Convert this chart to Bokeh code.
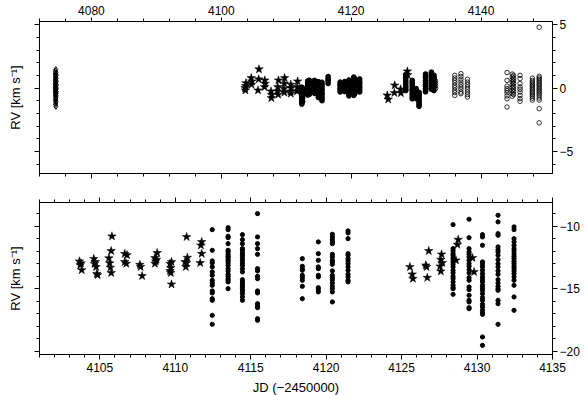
from bokeh.plotting import figure
from bokeh.models import Range1d, LinearAxis, SingleIntervalTicker
from bokeh.layouts import column
from bokeh.embed import file_html
from bokeh.resources import INLINE

FONT = "Liberation Sans"

# ---------------- top panel data ----------------
top_diamond_jd = [4074.50, 4074.46, 4074.54, 4074.42, 4074.58, 4074.50, 4074.44, 4074.56, 4074.50,
                  4074.42, 4074.58, 4074.47, 4074.53, 4074.40, 4074.60, 4074.50, 4074.44, 4074.56,
                  4074.41, 4074.59, 4074.50, 4074.45, 4074.55, 4074.42, 4074.58, 4074.50, 4074.44,
                  4074.56, 4074.47, 4074.53, 4074.50, 4074.45, 4074.55, 4074.50, 4074.48, 4074.52]
top_diamond_rv = [1.45, 1.32, 1.20, 1.10, 1.02, 0.93, 0.85, 0.76, 0.70, 0.62, 0.55, 0.47, 0.40,
                  0.33, 0.26, 0.20, 0.13, 0.06, 0.00, -0.07, -0.13, -0.20, -0.27, -0.33, -0.40,
                  -0.47, -0.55, -0.62, -0.70, -0.78, -0.87, -0.96, -1.06, -1.17, -1.30, -1.45]

top_star_jd = [4103.65, 4103.75, 4103.70, 4103.80,
               4104.60, 4104.70, 4104.65,
               4105.80, 4105.75, 4105.65,
               4106.70, 4106.75, 4106.65,
               4107.65, 4107.75, 4107.70,
               4108.80, 4108.70, 4108.65, 4108.75,
               4109.75, 4109.70, 4109.65, 4109.70,
               4110.70, 4110.75, 4110.65, 4110.70,
               4111.75, 4111.70, 4111.65,
               4125.55, 4125.70, 4126.70, 4126.65, 4127.60, 4127.65, 4128.65, 4128.70]
top_star_rv = [0.00, 0.16, -0.18, 0.39,
               0.79, 0.53, 0.27,
               1.48, 0.69, -0.18,
               0.61, 0.35, 0.08,
               -0.26, -0.52, -0.79,
               0.61, 0.08, -0.26, -0.52,
               0.79, 0.35, -0.05, -0.36,
               0.27, 0.00, -0.26, -0.44,
               0.53, 0.08, -0.26,
               -0.58, -0.90, 0.21, -0.38, -0.10, -0.40, 1.32, 1.03]

top_dot_nights = [4112.40, 4112.52, 4113.30, 4113.55, 4114.35, 4114.95, 4115.50, 4116.45,
                  4118.30, 4119.00, 4119.65, 4120.40, 4120.55, 4121.30,
                  4128.40, 4129.40, 4130.00, 4130.45, 4131.45, 4132.35, 4132.75]
top_dot_rv = [
    [0.06, -0.09, -0.21, -0.37, -0.48, -0.61, -0.73, -0.88, -0.99, -1.14, -1.27],
    [-0.03, -0.31, -0.57, -0.79, -1.06],
    [0.55, 0.37, 0.23, 0.05, -0.11, -0.26, -0.43, -0.55],
    [0.61, 0.44, 0.26, 0.11, -0.06, -0.21, -0.39, -0.50],
    [0.60, 0.44, 0.31, 0.12, -0.03, -0.17, -0.34, -0.42],
    [0.50, 0.32, 0.19, 0.01, -0.16, -0.29, -0.47, -0.61, -0.75],
    [0.45, 0.29, 0.13, -0.06, -0.19, -0.39, -0.52, -0.71, -0.85, -1.00],
    [0.90, 0.71, 0.56, 0.36],
    [0.46, 0.29, 0.16, -0.01, -0.14, -0.31],
    [0.50, 0.34, 0.21, 0.04, -0.12, -0.28],
    [0.63, 0.45, 0.31, 0.13, -0.03, -0.17, -0.35, -0.49, -0.62],
    [0.86, 0.67, 0.53, 0.35, 0.21, 0.03, -0.13, -0.27, -0.45, -0.58],
    [0.71, 0.41, 0.09, -0.21, -0.44],
    [0.71, 0.52, 0.38, 0.19, 0.05, -0.13, -0.31],
    [1.05, 0.87, 0.73, 0.54, 0.39, 0.21, 0.06, -0.11, -0.20],
    [0.60, 0.43, 0.29, 0.11, -0.05, -0.19, -0.37, -0.51, -0.69, -0.85],
    [-0.05, -0.23, -0.39, -0.59, -0.74, -0.84],
    [-0.35, -0.51, -0.65, -0.83, -0.97, -1.15, -1.29, -1.45],
    [1.10, 0.92, 0.78, 0.59, 0.45, 0.27, 0.13, -0.05, -0.19, -0.30],
    [1.25, 1.07, 0.93, 0.75, 0.61, 0.43, 0.29, 0.11, -0.03, -0.10],
    [1.00, 0.83, 0.69, 0.51, 0.37, 0.19, 0.05, -0.20],
]

top_circle_nights = [4133.00, 4135.95, 4136.90, 4137.90, 4144.00, 4144.80, 4145.00,
                     4146.00, 4147.90, 4148.95]
top_circle_rv = [
    [0.55, 0.36, 0.16, -0.04],
    [1.00, 0.79, 0.61, 0.42, 0.21, 0.03, -0.18, -0.36, -0.58],
    [1.13, 0.92, 0.69, 0.47, 0.27, 0.08, -0.10, -0.32, -0.45],
    [0.69, 0.47, 0.27, 0.08, -0.10, -0.32, -0.52, -0.71],
    [1.22, 0.60, 0.15, -0.05, -0.20, -0.38, -0.62, -0.85, -1.50],
    [1.10, 0.88, 0.66, 0.47, 0.25, 0.03, -0.20, -0.42, -0.65],
    [1.00, 0.78, 0.56, 0.36, 0.14, -0.08, -0.30, -0.52],
    [1.00, 0.74, 0.35, 0.08, -0.10, -0.32, -0.58, -0.84, -1.05],
    [0.78, 0.60, 0.47, 0.35, 0.21, 0.10, -0.03, -0.15, -0.29, -0.40, -0.53, -0.66, -0.80, -0.96],
    [4.80, 0.92, 0.79, 0.68, 0.54, 0.42, 0.29, 0.18, 0.04, -0.08, -0.21, -0.33, -0.46, -0.60,
     -0.79, -0.95, -1.63, -2.75],
]

# ---------------- bottom panel data ----------------
bot_star_jd = [4103.65, 4103.75, 4103.70, 4103.80,
               4104.60, 4104.70, 4104.65, 4104.75, 4104.80, 4104.85,
               4105.80, 4105.75, 4105.60, 4105.65, 4105.70, 4105.75,
               4106.65, 4106.80, 4106.65, 4106.75,
               4107.65, 4107.70, 4107.80,
               4108.80, 4108.65, 4108.75, 4108.70, 4108.65,
               4109.75, 4109.65, 4109.70, 4109.65, 4109.70, 4109.75,
               4110.75, 4110.80, 4110.65, 4110.75, 4110.70,
               4111.75, 4111.70, 4111.75, 4111.65,
               4125.55, 4125.70, 4125.75,
               4126.80, 4126.60, 4126.65, 4126.70,
               4127.65, 4127.60, 4127.70, 4127.55, 4127.60,
               4128.75, 4128.70, 4128.60,
               4129.70, 4129.80]
bot_star_rv = [-12.80, -12.95, -13.10, -13.50,
               -12.60, -12.85, -13.00, -13.25, -13.80, -13.90,
               -10.80, -11.97, -12.55, -12.95, -13.30, -13.73,
               -12.20, -12.30, -12.85, -12.99,
               -13.07, -13.25, -13.97,
               -12.13, -12.53, -12.67, -12.80, -12.99,
               -12.85, -12.99, -13.33, -13.57, -13.73, -14.64,
               -10.85, -12.51, -12.85, -12.93, -13.25,
               -11.25, -11.52, -12.19, -12.93,
               -13.25, -13.84, -14.19,
               -11.97, -13.12, -13.25, -14.11,
               -12.24, -12.67, -12.93, -13.20, -13.60,
               -11.07, -11.47, -12.72,
               -12.53, -13.65]

bot_dot_nights = [4112.45, 4113.50, 4114.45, 4115.45, 4118.42, 4119.48, 4120.41, 4121.45,
                  4128.41, 4129.47, 4130.36, 4131.39, 4132.45]
bot_dot_rv = [
    [-10.27, -11.92, -12.77, -12.93, -13.25, -13.65, -13.92, -14.32, -14.53, -14.72, -15.17,
     -15.33, -15.79, -15.92, -17.12, -17.84],
    [-10.11, -10.27, -10.80, -10.91, -11.39, -11.92, -12.05, -12.24, -12.40, -12.51, -12.67,
     -12.77, -12.93, -13.12, -13.39, -13.57, -13.84, -14.00, -14.19, -14.32, -14.45, -14.99],
    [-10.67, -11.07, -11.39, -11.79, -11.92, -12.13, -12.32, -12.51, -12.72, -12.93, -13.12,
     -13.39, -13.65, -14.27, -14.45, -14.64, -14.80, -14.99, -15.17, -15.39, -15.65, -15.92],
    [-8.99, -10.85, -11.39, -11.79, -12.24, -13.39, -13.57, -14.00, -14.19, -15.17, -15.33,
     -16.19, -16.40, -16.51, -17.39, -17.52],
    [-12.59, -13.20, -13.39, -13.52, -13.92, -14.11, -14.32, -14.80, -15.79],
    [-11.25, -12.19, -12.72, -13.25, -13.39, -13.92, -14.05, -14.91, -15.07, -15.25],
    [-10.64, -10.85, -11.07, -11.25, -11.39, -12.24, -12.45, -12.72, -12.85, -13.04, -13.57,
     -13.92, -14.11, -14.27, -14.53, -14.80, -14.99, -15.25, -16.05],
    [-10.37, -10.53, -10.99, -12.19, -12.32, -12.59, -12.77, -12.99, -13.25, -13.52, -13.84,
     -14.05, -14.32, -14.45],
    [-9.87, -11.79, -11.97, -12.19, -12.32, -12.51, -12.67, -12.85, -13.04, -13.25, -13.52,
     -13.73, -14.00, -14.19, -14.45, -14.72, -14.91, -14.99, -15.44],
    [-9.44, -10.91, -11.79, -12.05, -12.24, -12.45, -12.72, -12.99, -13.20, -13.47, -13.73,
     -14.11, -14.32, -14.85, -15.07, -15.52, -15.92, -16.05, -16.51, -16.59],
    [-10.67, -10.85, -11.52, -12.85, -13.04, -13.25, -13.52, -13.79, -14.05, -14.27, -14.45,
     -14.72, -14.91, -15.12, -15.39, -15.71, -15.92, -16.24, -16.45, -16.72, -16.93, -17.04,
     -18.85, -19.52],
    [-9.12, -9.65, -10.59, -10.72, -11.65, -11.87, -12.05, -12.32, -12.67, -12.99, -13.25,
     -13.57, -13.84, -14.27, -14.53, -14.80, -14.99, -15.12, -15.92, -16.19, -17.84],
    [-10.05, -10.27, -10.99, -11.25, -11.52, -11.79, -11.97, -12.19, -12.40, -12.59, -12.80,
     -12.99, -13.20, -13.39, -13.57, -13.79, -14.05, -14.32, -14.72, -15.65, -16.72],
]

top_x_ticks = 20
bot_x_ticks = 5
y_ticks = 5
rv_label = "RV [km s\u207b\u00b9]"
jd_label = "JD (\u22122450000)"


def flatten(nights, groups):
    xs = [n for n, g in zip(nights, groups) for _ in g]
    ys = [v for g in groups for v in g]
    return xs, ys


def style_axis(ax, interval, labels=True):
    ax.ticker = SingleIntervalTicker(interval=interval, num_minor_ticks=5)
    ax.axis_line_color = "black"
    ax.axis_line_width = 1
    ax.major_tick_line_color = "black"
    ax.minor_tick_line_color = "black"
    ax.major_tick_in = 0
    ax.major_tick_out = 5
    ax.minor_tick_in = 0
    ax.minor_tick_out = 3
    ax.major_label_text_font = FONT
    ax.major_label_text_font_size = "12px"
    ax.major_label_text_color = "black"
    ax.major_label_standoff = 2
    ax.axis_label_text_font = FONT
    ax.axis_label_text_font_size = "13px"
    ax.axis_label_text_font_style = "normal"
    ax.axis_label_text_color = "black"
    if not labels:
        ax.major_label_text_font_size = "0px"
        ax.major_label_text_color = None
        ax.major_label_standoff = 0


def make_fig(xr, yr, xloc, fh, mb_top, mb_bottom):
    p = figure(frame_width=513, frame_height=fh, x_range=xr, y_range=yr,
               x_axis_location=xloc, y_axis_location="right",
               toolbar_location=None, output_backend="svg",
               min_border_left=39, min_border_right=34,
               min_border_top=mb_top, min_border_bottom=mb_bottom)
    p.xgrid.visible = False
    p.ygrid.visible = False
    p.outline_line_color = "black"
    p.outline_line_alpha = 1
    p.background_fill_color = "white"
    p.border_fill_color = "white"
    return p


# ---------------- top figure ----------------
p1 = make_fig(Range1d(4072, 4151), Range1d(-6.75, 5.25), "above", 152, 21, 14)
style_axis(p1.xaxis[0], top_x_ticks)
style_axis(p1.yaxis[0], y_ticks)
p1.yaxis[0].major_label_overrides = {-5: "\u22125"}
p1.xaxis[0].major_tick_out = 4
p1.xaxis[0].major_label_standoff = 3
ax = LinearAxis()
style_axis(ax, top_x_ticks, labels=False)
p1.add_layout(ax, "below")
ay = LinearAxis(axis_label=rv_label)
style_axis(ay, y_ticks, labels=False)
ay.axis_label_standoff = 12
p1.add_layout(ay, "left")

p1.scatter(top_diamond_jd, top_diamond_rv, marker="diamond", size=6,
           fill_color=None, line_color="black", line_width=1)
tx, ty = flatten(top_dot_nights, top_dot_rv)
p1.scatter(tx, ty, marker="circle", size=4.8, fill_color="black", line_color="black")
cx, cy = flatten(top_circle_nights, top_circle_rv)
p1.scatter(cx, cy, marker="circle", size=4.5, fill_color=None, line_color="black",
           line_width=0.8)
p1.scatter(top_star_jd, top_star_rv, marker="star", size=9, fill_color="black",
           line_color="black", line_width=0.5)

# ---------------- bottom figure ----------------
p2 = make_fig(Range1d(4101, 4135), Range1d(-20.25, -8.1), "below", 152, 15, 0)
style_axis(p2.xaxis[0], bot_x_ticks)
p2.xaxis[0].axis_label = jd_label
p2.xaxis[0].axis_label_standoff = 5
p2.xaxis[0].major_label_standoff = 3
style_axis(p2.yaxis[0], y_ticks)
p2.yaxis[0].major_label_overrides = {-10: "\u221210", -15: "\u221215", -20: "\u221220"}
ax2 = LinearAxis()
style_axis(ax2, bot_x_ticks, labels=False)
p2.add_layout(ax2, "above")
ay2 = LinearAxis(axis_label=rv_label)
style_axis(ay2, y_ticks, labels=False)
ay2.axis_label_standoff = 12
p2.add_layout(ay2, "left")

bx, by = flatten(bot_dot_nights, bot_dot_rv)
p2.scatter(bx, by, marker="circle", size=4.2, fill_color="black", line_color="black")
p2.scatter(bot_star_jd, bot_star_rv, marker="star", size=9, fill_color="black",
           line_color="black", line_width=0.5)

layout = column(p1, p2, spacing=0)
open("out.html", "w").write(file_html(layout, INLINE))
